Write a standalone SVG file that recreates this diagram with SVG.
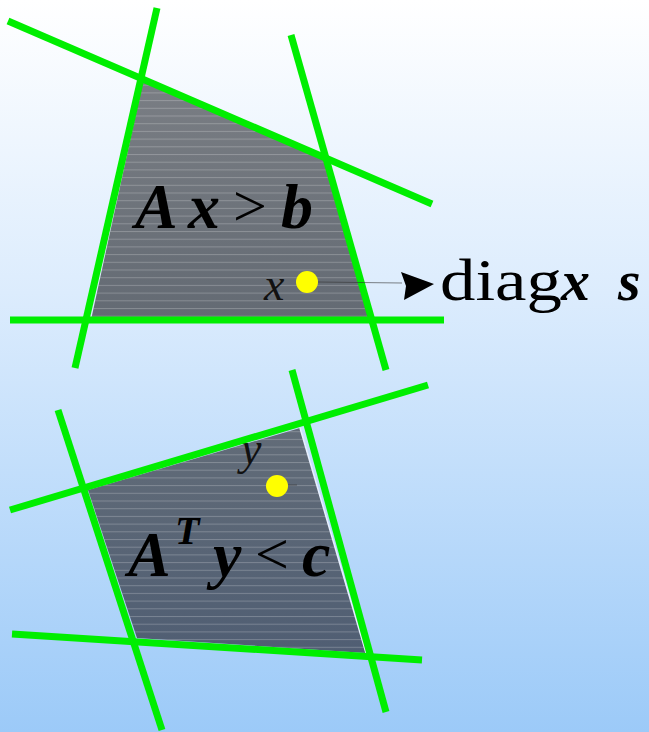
<svg xmlns="http://www.w3.org/2000/svg" width="649" height="732" viewBox="0 0 649 732">
<defs>
<linearGradient id="bg" x1="0" y1="0" x2="0" y2="1">
<stop offset="0" stop-color="#ffffff"/>
<stop offset="0.4" stop-color="#dcecfd"/>
<stop offset="1" stop-color="#9ccaf8"/>
</linearGradient>
<linearGradient id="g1" x1="0" y1="0" x2="0" y2="1">
<stop offset="0" stop-color="#7a7e84"/>
<stop offset="1" stop-color="#636a73"/>
</linearGradient>
<linearGradient id="g2" x1="0" y1="0" x2="0" y2="1">
<stop offset="0" stop-color="#626c78"/>
<stop offset="1" stop-color="#505e73"/>
</linearGradient>
<pattern id="stripes" patternUnits="userSpaceOnUse" x="0" y="0" width="649" height="7.7">
<rect x="0" y="0" width="649" height="1" fill="#ffffff" fill-opacity="0.22"/>
</pattern>
<style>
text{font-family:'Liberation Serif','Times New Roman',Tinos,Times,serif}
.ln{stroke:#00ee00;stroke-width:7;stroke-linecap:butt;fill:none}
.big{font-weight:bold;font-style:italic;font-size:64px;fill:#000}
.rel{font-size:60px;fill:#000}
.sm{font-style:italic;font-size:46px;fill:#111}
.dot{fill:#ffff00}
.thin{stroke:#333;stroke-width:1;stroke-opacity:0.6}
</style>
</defs>
<rect width="649" height="732" fill="url(#bg)"/>
<g id="region-primal">
<polygon points="143,81 325,158 372,320 91,320" fill="url(#g1)"/>
<polygon points="143,81 325,158 372,320 91,320" fill="url(#stripes)"/>
<text class="big" x="135" y="228">A</text>
<text class="big" x="188" y="228">x</text>
<text class="rel" x="233" y="226">&gt;</text>
<text class="big" x="281" y="228">b</text>
<text class="sm" x="264" y="300">x</text>
<circle class="dot" cx="307" cy="282" r="11"/>
</g>
<g id="region-dual">
<polygon points="88,490 300,428 366,653 137,638" fill="url(#g2)"/>
<polygon points="88,490 300,428 366,653 137,638" fill="url(#stripes)"/>
<line x1="300" y1="428" x2="366" y2="653" stroke="#e8f0ff" stroke-width="1.5"/>
<text class="big" x="128" y="576">A</text>
<text class="big" x="175" y="544" style="font-size:40px">T</text>
<text class="big" x="213" y="576">y</text>
<text class="rel" x="255" y="574">&lt;</text>
<text class="big" x="302" y="576">c</text>
<text class="sm" x="241" y="464">y</text>
<circle class="dot" cx="277" cy="486" r="11"/>
</g>
<g id="label-diag">
<text x="440" y="300" style="font-size:60px" textLength="122" lengthAdjust="spacingAndGlyphs">diag</text>
<text class="big" x="561" y="300" style="font-size:58px">x</text>
<text class="big" x="618" y="300" style="font-size:58px">s</text>
</g>
<g id="connectors">
<line class="ln" x1="8" y1="21" x2="432" y2="204"/>
<line class="ln" x1="157" y1="8" x2="75" y2="368"/>
<line class="ln" x1="291" y1="35" x2="386" y2="370"/>
<line class="ln" x1="10" y1="320" x2="444" y2="320"/>
<line class="ln" x1="10" y1="510" x2="428" y2="385"/>
<line class="ln" x1="58" y1="410" x2="162" y2="730"/>
<line class="ln" x1="292" y1="370" x2="386" y2="712"/>
<line class="ln" x1="12" y1="634" x2="422" y2="660"/>
<line class="thin" x1="318" y1="282" x2="402" y2="283"/>
<line class="thin" x1="288" y1="485" x2="297" y2="485"/>
<polygon points="401,272 434,284 404,300 406,286" fill="#000"/>
</g>
</svg>
